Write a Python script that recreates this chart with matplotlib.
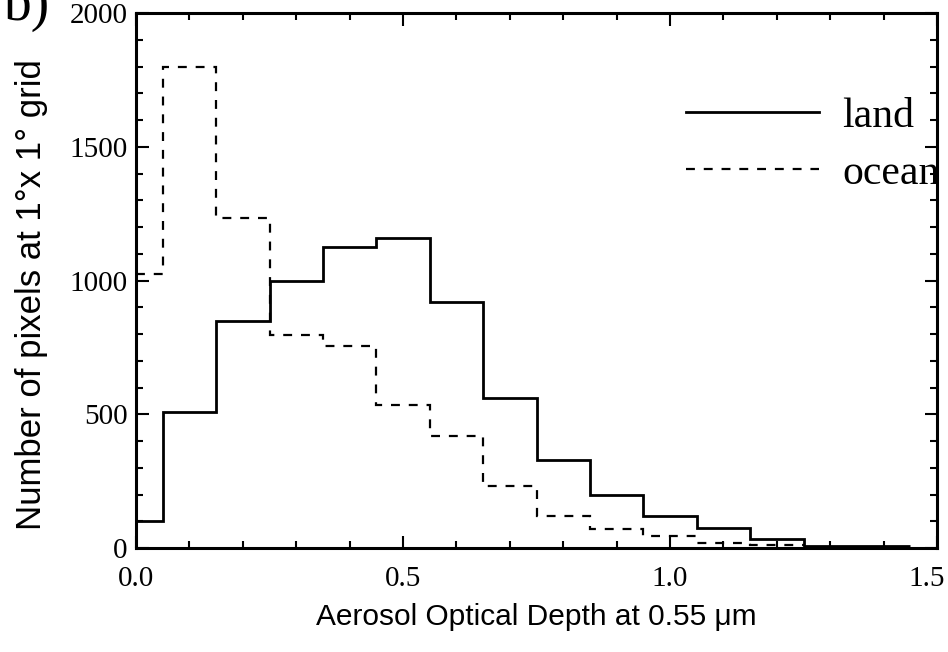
import matplotlib
matplotlib.use('Agg')
import matplotlib.pyplot as plt
import matplotlib.transforms as mtransforms
from matplotlib.ticker import MultipleLocator

# bin edges of the AOD histogram (bins centred on 0.1, 0.2, ...)
land_edges = [0.0, 0.05, 0.15, 0.25, 0.35, 0.45, 0.55, 0.65, 0.75,
              0.85, 0.95, 1.05, 1.15, 1.25, 1.35, 1.45]
land_counts = [100, 510, 850, 1000, 1125, 1160, 920, 560, 330,
               200, 118, 76, 32, 8, 8]

ocean_edges = [0.0, 0.05, 0.15, 0.25, 0.35, 0.45, 0.55, 0.65, 0.75,
               0.85, 0.95, 1.05, 1.15, 1.25]
ocean_counts = [1025, 1800, 1235, 795, 755, 535, 420, 230, 120,
                70, 45, 20, 10]

x_ticks = [0.0, 0.5, 1.0, 1.5]
x_labels = ['0.0', '0.5', '1.0', '1.5']

serif = 'Liberation Serif'
sans = 'Liberation Sans'

fig = plt.figure(figsize=(9.48, 6.52), dpi=100)
ax = fig.add_axes([0.1435, 0.1595, 0.845, 0.8205])

ax.stairs(land_counts, land_edges, baseline=None, color='black',
          lw=2.0, label='land')
ax.stairs(ocean_counts, ocean_edges, baseline=None, color='black',
          lw=1.6, linestyle=(0, (4, 4)), label='ocean')

ax.set_xlim(0, 1.5)
ax.set_ylim(0, 2000)
ax.set_xticks(x_ticks, labels=x_labels)
ax.xaxis.set_minor_locator(MultipleLocator(0.1))
ax.yaxis.set_major_locator(MultipleLocator(500))
ax.yaxis.set_minor_locator(MultipleLocator(100))

ax.tick_params(which='both', direction='in', top=True, right=True,
               width=1.5, colors='black')
ax.tick_params(which='major', length=9)
ax.tick_params(which='minor', length=5)
ax.tick_params(axis='x', pad=13)
ax.tick_params(axis='y', pad=6)
for lab in ax.get_xticklabels() + ax.get_yticklabels():
    lab.set_fontfamily(serif)
    lab.set_fontsize(21)

for s in ax.spines.values():
    s.set_linewidth(2.2)

ax.set_xlabel('Aerosol Optical Depth at 0.55 \u03bcm', fontsize=21.5,
              family=sans, labelpad=8)
ax.set_ylabel('Number of pixels at 1°x 1° grid', fontsize=25,
              family=sans)
ax.yaxis.set_label_coords(-0.11, 0.473)

leg = ax.legend(loc='upper right', bbox_to_anchor=(1.024, 0.874),
                frameon=False, handlelength=3.2, handletextpad=0.55,
                labelspacing=0.45, borderaxespad=0.0,
                prop={'family': serif, 'size': 30})

# panel letter, partly cut off at the top-left corner
fig.text(0.004, 0.969, 'b)', family=serif, fontsize=40, va='baseline')

# the last x label is drawn a little to the left so it stays inside
fig.canvas.draw()
last = ax.xaxis.get_majorticklabels()[-1]
last.set_transform(last.get_transform() +
                   mtransforms.ScaledTranslation(-10 / 100, 0,
                                                 fig.dpi_scale_trans))

fig.savefig('out.png', dpi=100)
